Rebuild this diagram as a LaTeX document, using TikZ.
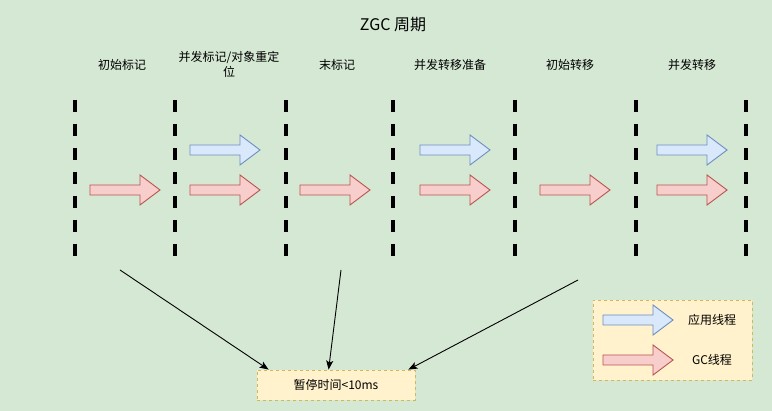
\documentclass[tikz,border=0pt]{standalone}
\usepackage{fontspec}
\setmainfont{Liberation Sans}
\newfontfamily\cjk{Noto Sans CJK SC}
\usetikzlibrary{arrows.meta,calc}
\definecolor{bggreen}{HTML}{D5E8D4}
\definecolor{bluefill}{HTML}{DAE8FC}
\definecolor{bluedraw}{HTML}{6C8EBF}
\definecolor{redfill}{HTML}{F8CECC}
\definecolor{reddraw}{HTML}{B85450}
\definecolor{yelfill}{HTML}{FFF2CC}
\definecolor{yeldraw}{HTML}{D6B656}
\tikzset{
  blk/.pic={\path[pic actions] (0,-5) -- (50,-5) -- (50,-15) -- (70,0) -- (50,15) -- (50,5) -- (0,5) -- cycle;},
  apparrow/.style={draw=bluedraw,fill=bluefill,line width=0.9pt},
  gcarrow/.style={draw=reddraw,fill=redfill,line width=0.9pt},
  phase/.style={line width=4pt,dash pattern=on 12pt off 12pt},
  lbl/.style={font=\cjk\fontsize{12}{15}\selectfont,align=center,inner sep=0pt},
  notebox/.style={draw=yeldraw,fill=yelfill,dash pattern=on 3pt off 3pt,line width=0.8pt,inner sep=0pt},
  conn/.style={line width=0.9pt,-{Stealth[length=9pt,width=7pt,inset=2pt]}}
}
\begin{document}
\begin{tikzpicture}[x=1pt,y=-1pt]
\fill[bggreen] (0,0) rectangle (772,411);
\useasboundingbox (0,0) rectangle (772,411);
\node[font=\cjk\fontsize{16}{18}\selectfont] (title) at (393,25) {ZGC 周期};
% phase labels
\node[lbl] (l1) at (122,65) {初始标记};
\node[lbl] (l2) at (229,64.5) {并发标记/对象重定\\位};
\node[lbl] (l3) at (337,65) {末标记};
\node[lbl] (l4) at (450,65) {并发转移准备};
\node[lbl] (l5) at (570,65) {初始转移};
\node[lbl] (l6) at (692,65) {并发转移};
% dashed separators
\foreach \x in {75,175,285.5,393,515,635.5,746}
  \draw[phase] (\x,100) -- (\x,257);
% block arrows
\pic[gcarrow] at (90,190) {blk};
\pic[apparrow] at (190,150) {blk};
\pic[gcarrow] at (190,190) {blk};
\pic[gcarrow] at (300,190) {blk};
\pic[apparrow] at (420,150) {blk};
\pic[gcarrow] at (420,190) {blk};
\pic[gcarrow] at (540,190) {blk};
\pic[apparrow] at (657,150) {blk};
\pic[gcarrow] at (657,190) {blk};
% pause box
\node[notebox,minimum width=158pt,minimum height=30pt,lbl] (pause) at (336,385) {暂停时间<10ms};
% legend
\node[notebox,minimum width=159pt,minimum height=80pt] (legend) at (672.5,340) {};
\pic[apparrow] at (603,320) {blk};
\pic[gcarrow] at (603,360) {blk};
\node[lbl] (app) at (712,320) {应用线程};
\node[lbl] (gc) at (712,360) {GC线程};
% connectors
\coordinate (s1) at (120,270);
\coordinate (s2) at (341,270);
\coordinate (s3) at (578,280);
\coordinate (e1) at ($(pause.north west)+(12,0)$);
\coordinate (e2) at ($(pause.north west)+(72,0)$);
\coordinate (e3) at ($(pause.north east)+(-7,0)$);
\draw[conn] (s1) -- (e1);
\draw[conn] (s2) -- (e2);
\draw[conn] (s3) -- (e3);
\end{tikzpicture}
\end{document}
